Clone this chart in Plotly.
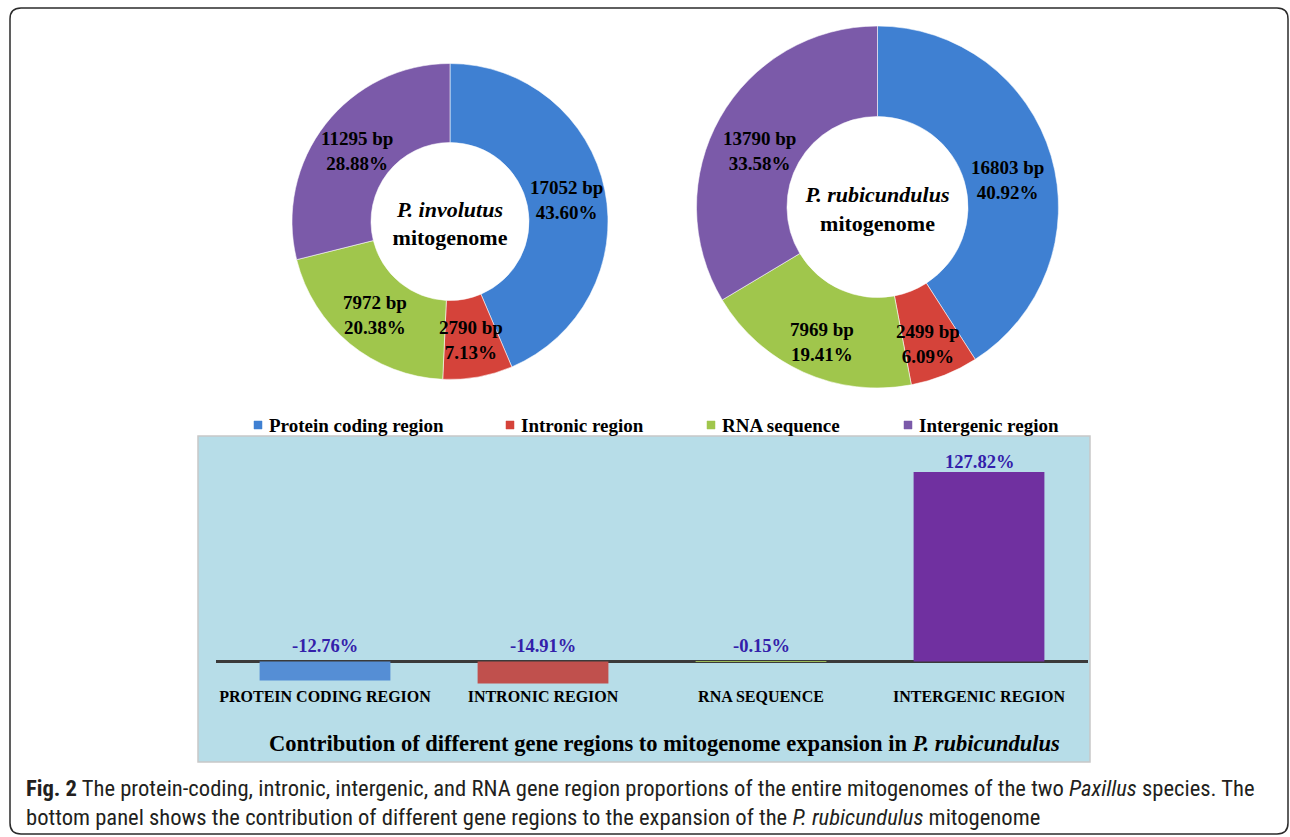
import math
import plotly.graph_objects as go

W, H = 1290, 837

# ---- data -------------------------------------------------------------
regions = ["Protein coding region", "Intronic region", "RNA sequence", "Intergenic region"]

involutus_bp = [17052, 2790, 7972, 11295]
involutus_pct = [43.60, 7.13, 20.38, 28.88]

rubicundulus_bp = [16803, 2499, 7969, 13790]
rubicundulus_pct = [40.92, 6.09, 19.41, 33.58]

expansion_pct = [-12.76, -14.91, -0.15, 127.82]

# ---- styling ----------------------------------------------------------
ring_colors = ["#3f80d2", "#d5433a", "#a0c64c", "#7b5aa9"]
bar_colors = ["#558ed5", "#c0504d", "#9bbb59", "#7030a0"]
label_blue = "#3320aa"
SERIF = "Liberation Serif, Times New Roman, serif"
CAPTION_FONT = "Liberation Sans Narrow, Arial Narrow, Roboto Condensed, Roboto, sans-serif"
HOLE = 0.5


def px_x(x):
    return x / W


def px_y(y):
    return 1 - y / H


# pixel boxes (left, top, right, bottom) for the two rings, plus a small
# downward nudge for the segment labels of each ring
ring_boxes = [
    ("P. involutus", involutus_bp, involutus_pct, (292, 63.5, 608, 379.5), 2),
    ("P. rubicundulus", rubicundulus_bp, rubicundulus_pct, (695, 26, 1060, 388), 11),
]

fig = go.Figure()
annotations = []

for name, bp, pct, (l, t, r, b), drop in ring_boxes:
    fig.add_trace(go.Pie(
        labels=regions,
        values=bp,
        sort=False,
        direction="clockwise",
        rotation=0,
        hole=HOLE,
        textinfo="none",
        hoverinfo="label+value+percent",
        marker=dict(colors=ring_colors, line=dict(color="rgba(255,255,255,0.55)", width=1)),
        domain=dict(x=[px_x(l), px_x(r)], y=[px_y(b), px_y(t)]),
        title=dict(
            text=f"<b><i>{name}</i></b><br><b>mitogenome</b>",
            position="middle center",
            font=dict(family=SERIF, size=22, color="black"),
        ),
        showlegend=False,
    ))

    # segment labels on the middle of the ring, along each slice's bisector
    cx, cy = (l + r) / 2, (t + b) / 2
    R = min(r - l, b - t) / 2
    rm = R * (1 + HOLE) / 2
    total = sum(bp)
    acc = 0
    for v, p in zip(bp, pct):
        ang = (acc + v / 2) / total * 2 * math.pi
        acc += v
        x = cx + rm * math.sin(ang)
        y = cy - rm * math.cos(ang) + drop
        annotations.append(dict(
            x=px_x(x), y=px_y(y), xref="paper", yref="paper",
            text=f"<b>{v} bp<br>{p:.2f}%</b>",
            showarrow=False, xanchor="center", yanchor="middle",
            font=dict(family=SERIF, size=19, color="black"),
        ))

# ---- expansion bar chart ----------------------------------------------
fig.add_trace(go.Bar(
    x=regions,
    y=expansion_pct,
    marker=dict(color=bar_colors, line=dict(width=0)),
    xaxis="x2", yaxis="y2",
    showlegend=False,
    hovertemplate="%{x}: %{y:.2f}%<extra></extra>",
))

for reg, v in zip(regions, expansion_pct):
    annotations.append(dict(
        x=reg, y=max(v, 0), xref="x2", yref="y2",
        text=f"<b>{v:.2f}%</b>",
        showarrow=False, xanchor="center", yanchor="middle",
        yshift=10 if v > 0 else 16,
        font=dict(family=SERIF, size=18.5, color=label_blue),
    ))

annotations.append(dict(
    x=px_x(664), y=px_y(743), xref="paper", yref="paper",
    text="<b>Contribution of different gene regions to mitogenome expansion in <i>P. rubicundulus</i></b>",
    showarrow=False, xanchor="center", yanchor="middle",
    font=dict(family=SERIF, size=22.5, color="black"),
))

# ---- legend row -------------------------------------------------------
legend_x = [267, 519, 720, 917]
shapes = []
for reg, col, lx in zip(regions, ring_colors, legend_x):
    shapes.append(dict(
        type="rect", xref="paper", yref="paper",
        x0=px_x(lx - 13), x1=px_x(lx - 5), y0=px_y(429), y1=px_y(421),
        fillcolor=col, line=dict(color=col, width=0.5),
    ))
    annotations.append(dict(
        x=px_x(lx), y=px_y(425), xref="paper", yref="paper",
        text=f"<b>{reg}</b>", showarrow=False, xanchor="left", yanchor="middle",
        font=dict(family=SERIF, size=19, color="black"),
    ))

# ---- caption ----------------------------------------------------------
caption = (
    "<b>Fig. 2</b> The protein-coding, intronic, intergenic, and RNA gene region proportions "
    "of the entire mitogenomes of the two <i>Paxillus</i> species. The<br>"
    "bottom panel shows the contribution of different gene regions to the expansion of the "
    "<i>P. rubicundulus</i> mitogenome"
)
annotations.append(dict(
    x=px_x(24), y=px_y(803), xref="paper", yref="paper",
    text=caption, showarrow=False, xanchor="left", yanchor="middle", align="left",
    font=dict(family=CAPTION_FONT, size=22.6, color="#231f20"),
))

# ---- frame and panel background --------------------------------------
def rounded_rect_path(l, t, r, b, rad):
    X, Y = px_x, px_y
    return (
        f"M {X(l + rad)},{Y(t)} L {X(r - rad)},{Y(t)} Q {X(r)},{Y(t)} {X(r)},{Y(t + rad)} "
        f"L {X(r)},{Y(b - rad)} Q {X(r)},{Y(b)} {X(r - rad)},{Y(b)} "
        f"L {X(l + rad)},{Y(b)} Q {X(l)},{Y(b)} {X(l)},{Y(b - rad)} "
        f"L {X(l)},{Y(t + rad)} Q {X(l)},{Y(t)} {X(l + rad)},{Y(t)} Z"
    )


shapes.insert(0, dict(
    type="rect", xref="paper", yref="paper", layer="below",
    x0=px_x(198), x1=px_x(1090), y0=px_y(762), y1=px_y(436),
    fillcolor="#b7dde8", line=dict(color="#c8c8c8", width=1.5),
))
shapes.append(dict(
    type="path", xref="paper", yref="paper",
    path=rounded_rect_path(10, 8, 1288, 834, 11),
    line=dict(color="#2b2b2b", width=1.5),
))

# bar panel axes: zero at y=661.5 px, 1.4825 px per percentage point
y_lo, y_hi = -16, 140
zero_px, scale = 661.5, 1.4825
bottom_px = zero_px - y_lo * scale
top_px = zero_px - y_hi * scale

fig.update_layout(
    width=W, height=H,
    margin=dict(l=0, r=0, t=0, b=0),
    paper_bgcolor="white",
    plot_bgcolor="rgba(0,0,0,0)",
    bargap=0.4,
    xaxis2=dict(
        domain=[px_x(216), px_x(1088)], anchor="y2",
        tickvals=regions, ticktext=[r.upper() for r in regions],
        tickfont=dict(family=SERIF, size=16, color="black", weight="bold"),
        showline=False, showgrid=False, ticks="", fixedrange=True,
    ),
    yaxis2=dict(
        domain=[px_y(bottom_px), px_y(top_px)], anchor="x2",
        range=[y_lo, y_hi], showgrid=False, showticklabels=False, ticks="",
        zeroline=True, zerolinecolor="#3a3a3a", zerolinewidth=2.5, fixedrange=True,
    ),
    annotations=annotations,
    shapes=shapes,
)

fig.write_html("out.html")
